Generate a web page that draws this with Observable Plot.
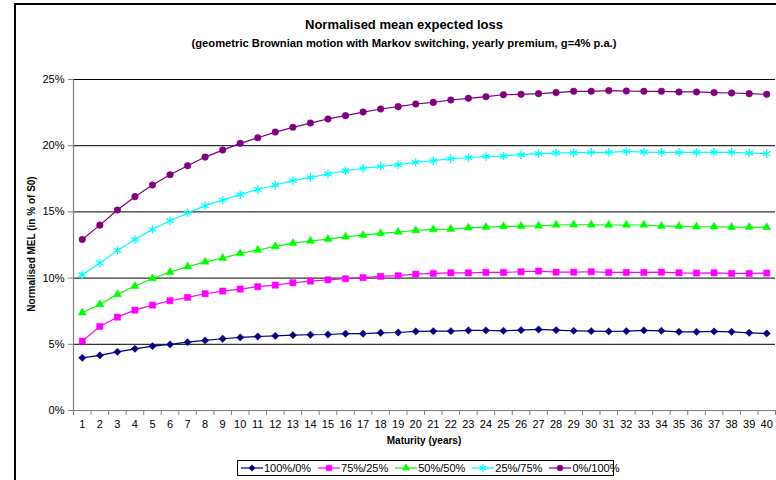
<!DOCTYPE html>
<html><head><meta charset="utf-8">
<script src="https://cdn.jsdelivr.net/npm/d3@7"></script>
<script src="https://cdn.jsdelivr.net/npm/@observablehq/plot@0.6"></script>
<style>
body{margin:0;background:#fff;font-family:"Liberation Sans",Arial,sans-serif;}
#wrap{position:relative;width:776px;height:480px;overflow:hidden;background:#fff;}
.abs{position:absolute;}
#title{left:0;width:808px;top:17px;text-align:center;font-weight:bold;font-size:13px;line-height:16px;color:#000;}
#subtitle{left:0;width:808px;top:36px;text-align:center;font-weight:bold;font-size:11.2px;line-height:15px;color:#000;}
#ytitle{left:-132px;width:330px;top:237px;height:14px;text-align:center;font-weight:bold;font-size:10px;transform:rotate(-90deg);transform-origin:center center;}
#xtitle{left:324px;width:200px;top:435px;text-align:center;font-weight:bold;font-size:10px;}
#legend{left:237px;top:460px;width:377px;height:16px;border:1px solid #000;display:flex;align-items:center;font-size:11px;box-sizing:border-box;padding-left:3px;}
#legend .item{display:flex;align-items:center;margin-right:7px;}
#legend svg{margin-right:1px;}
</style></head><body>
<div id="wrap">
 <div class="abs" style="left:14px;top:3px;width:800px;height:500px;border-left:2px solid #000;border-top:2px solid #000;"></div>
 <div id="chart" class="abs" style="left:0;top:0"></div>
 <div class="abs" id="title">Normalised mean expected loss</div>
 <div class="abs" id="subtitle">(geometric Brownian motion with Markov switching, yearly premium, g=4% p.a.)</div>
 <div class="abs" id="ytitle">Normalised MEL (in % of S0)</div>
 <div class="abs" id="xtitle">Maturity (years)</div>
 <div class="abs" id="legend"></div>
</div>
<script>
const maturity = [1,2,3,4,5,6,7,8,9,10,11,12,13,14,15,16,17,18,19,20,21,22,23,24,25,26,27,28,29,30,31,32,33,34,35,36,37,38,39,40];
const yTicks = [0,5,10,15,20,25];
const seriesNames = ["100%/0%","75%/25%","50%/50%","25%/75%","0%/100%"];
const seriesColors = ["#000080","#FF00FF","#00FF00","#00FFFF","#800080"];

const s100_0 = [3.98,4.16,4.43,4.66,4.86,4.99,5.16,5.29,5.42,5.52,5.59,5.64,5.69,5.72,5.74,5.80,5.80,5.87,5.89,5.97,5.99,5.99,6.05,6.05,6.02,6.07,6.12,6.07,6.02,5.99,5.97,5.99,6.05,6.02,5.94,5.94,5.97,5.94,5.87,5.82];
const s75_25 = [5.24,6.35,7.05,7.58,7.96,8.29,8.54,8.82,9.02,9.17,9.35,9.47,9.65,9.77,9.87,9.95,10.03,10.13,10.18,10.30,10.35,10.40,10.40,10.43,10.43,10.48,10.53,10.45,10.45,10.48,10.43,10.43,10.43,10.45,10.40,10.38,10.40,10.35,10.35,10.38];
const s50_50 = [7.38,8.01,8.77,9.40,9.97,10.45,10.86,11.23,11.51,11.86,12.12,12.39,12.64,12.80,12.95,13.12,13.25,13.38,13.48,13.60,13.68,13.70,13.80,13.85,13.90,13.93,13.95,14.01,14.03,14.03,14.01,14.01,14.01,13.93,13.93,13.88,13.88,13.85,13.85,13.83];
const s25_75 = [10.25,11.13,12.09,12.92,13.68,14.33,14.91,15.47,15.89,16.30,16.70,17.03,17.36,17.61,17.86,18.11,18.29,18.44,18.56,18.74,18.87,19.02,19.09,19.19,19.22,19.32,19.40,19.45,19.47,19.50,19.50,19.57,19.52,19.50,19.50,19.50,19.50,19.50,19.45,19.40];
const s0_100 = [12.92,14.00,15.14,16.15,17.03,17.81,18.49,19.14,19.67,20.18,20.60,21.03,21.39,21.71,22.02,22.27,22.54,22.77,22.95,23.15,23.27,23.45,23.58,23.70,23.85,23.88,23.93,24.01,24.11,24.11,24.16,24.13,24.11,24.11,24.06,24.06,24.01,23.98,23.93,23.88];

const seriesValues = [s100_0, s75_25, s50_50, s25_75, s0_100];
const markers = [
  {symbol:"diamond2", r:3.3, filled:true, d3sym:d3.symbolDiamond2},
  {symbol:"square", r:3.5, filled:true, d3sym:d3.symbolSquare},
  {symbol:"triangle", r:3.0, filled:true, d3sym:d3.symbolTriangle},
  {symbol:"asterisk", r:4.0, filled:false, d3sym:d3.symbolAsterisk},
  {symbol:"circle", r:3.3, filled:true, d3sym:d3.symbolCircle}
];

const boundaries = [0, ...maturity].map(d => d + 0.5);

const marks = [
  Plot.ruleY(yTicks.filter(d => d > 0), {stroke:"#000", strokeWidth:1}),
  Plot.ruleY([0], {stroke:"#808080", strokeWidth:1.2}),
  Plot.ruleX([0.5], {stroke:"#808080", strokeWidth:1.2}),
  Plot.axisY({ticks:yTicks, tickFormat:d => d + "%", tickSize:5, tickPadding:4, stroke:"#808080", label:null, fontSize:11}),
  Plot.axisX({ticks:boundaries, tickSize:5, tickFormat:() => "", stroke:"#808080", label:null}),
  Plot.axisX({ticks:maturity, tickSize:0, tickPadding:10, tickFormat:d => String(d), label:null, fontSize:11})
];

seriesValues.forEach((vals, i) => {
  const data = maturity.map((m, j) => ({m, v: vals[j]}));
  const c = seriesColors[i];
  const mk = markers[i];
  marks.push(Plot.line(data, {x:"m", y:"v", stroke:c, strokeWidth:1.2}));
  marks.push(Plot.dot(data, {x:"m", y:"v", symbol:mk.symbol, r:mk.r,
    fill: mk.filled ? c : "none", stroke:c, strokeWidth: mk.filled ? 0.5 : 1.3}));
});

const chart = Plot.plot({
  width:776, height:480,
  marginLeft:73, marginRight:1, marginTop:79, marginBottom:70,
  style:{fontFamily:"'Liberation Sans', Arial, sans-serif", fontSize:"11px", color:"#000", background:"transparent"},
  x:{type:"linear", domain:[0.5, 40.5]},
  y:{domain:[0, 25]},
  marks
});
document.getElementById("chart").appendChild(chart);

const legend = document.getElementById("legend");
seriesNames.forEach((name, i) => {
  const c = seriesColors[i], mk = markers[i];
  const item = document.createElement("div");
  item.className = "item";
  const size = Math.PI * mk.r * mk.r * 0.8;
  const path = d3.symbol(mk.d3sym, size)();
  item.innerHTML = `<svg width="22" height="10"><line x1="0" x2="22" y1="5" y2="5" stroke="${c}" stroke-width="1.2"/><path transform="translate(11,5)" d="${path}" fill="${mk.filled ? c : "none"}" stroke="${c}" stroke-width="${mk.filled ? 0.5 : 1.3}"/></svg><span>${name}</span>`;
  legend.appendChild(item);
});
</script>
</body></html>
